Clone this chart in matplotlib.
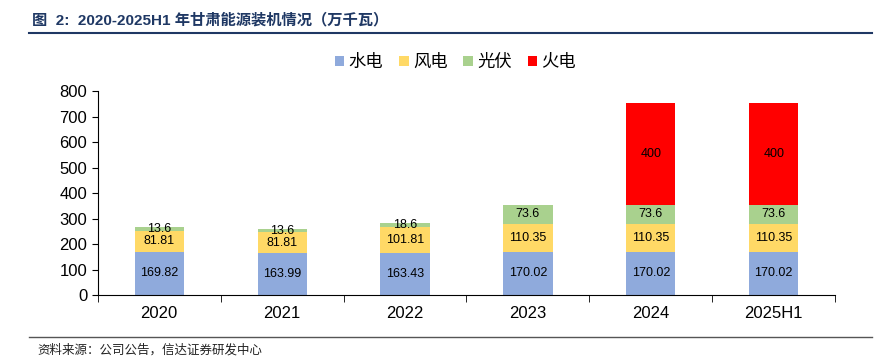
import matplotlib.pyplot as plt
import numpy as np

plt.rcParams['font.family'] = ['Liberation Sans', 'Noto Sans CJK SC', 'DejaVu Sans']

years = ["2020", "2021", "2022", "2023", "2024", "2025H1"]
hydro = [169.82, 163.99, 163.43, 170.02, 170.02, 170.02]
wind = [81.81, 81.81, 101.81, 110.35, 110.35, 110.35]
solar = [13.6, 13.6, 18.6, 73.6, 73.6, 73.6]
thermal = [0, 0, 0, 0, 400, 400]

series = [
    ("水电", hydro, "#8faadc"),
    ("风电", wind, "#ffd966"),
    ("光伏", solar, "#a9d18e"),
    ("火电", thermal, "#ff0000"),
]


def main():
    fig = plt.figure(figsize=(8.81, 3.63), dpi=100)
    ax = fig.add_axes([0.111, 0.187, 0.837, 0.562])

    x = np.arange(len(years))
    bottom = np.zeros(len(years))
    for name, vals, color in series:
        vals = np.array(vals, dtype=float)
        ax.bar(x, vals, 0.4, bottom=bottom, color=color, label=name)
        for xi, b, v in zip(x, bottom, vals):
            if v > 0:
                ax.text(xi, b + v / 2, f"{v:g}", ha="center", va="center",
                        fontsize=9, color="black")
        bottom += vals

    ax.set_xlim(-0.5, len(years) - 0.5)
    ax.set_ylim(0, 800)
    ax.set_yticks(range(0, 801, 100))
    ax.set_xticks(x)
    ax.set_xticklabels(years)
    ax.set_xticks(np.arange(-0.5, len(years)), minor=True)
    ax.tick_params(axis="x", which="major", length=0, labelsize=12, pad=8)
    ax.tick_params(axis="x", which="minor", length=5, direction="out")
    ax.tick_params(axis="y", labelsize=12, length=4, direction="out")
    for s in ["top", "right"]:
        ax.spines[s].set_visible(False)

    ax.legend(loc="upper center", bbox_to_anchor=(0.485, 1.26), ncol=4,
              frameon=False, fontsize=12.5, handlelength=0.55, handleheight=0.55,
              handletextpad=0.25, columnspacing=0.9)

    fig.text(0.036, 0.945, "图  2:  2020-2025H1 年甘肃能源装机情况（万千瓦）",
             fontsize=11, fontweight="bold", color="#1f3864", va="center")
    fig.add_artist(plt.Line2D([0.033, 0.99], [0.908, 0.908], color="#1f3864", lw=1.5))
    fig.add_artist(plt.Line2D([0.033, 0.99], [0.072, 0.072], color="#555555", lw=1.0))
    fig.text(0.042, 0.035, "资料来源：公司公告，信达证券研发中心", fontsize=9,
             style="italic", color="#222222", va="center")

    fig.savefig("out.png", dpi=100)
    plt.close(fig)


if __name__ == "__main__":
    main()
